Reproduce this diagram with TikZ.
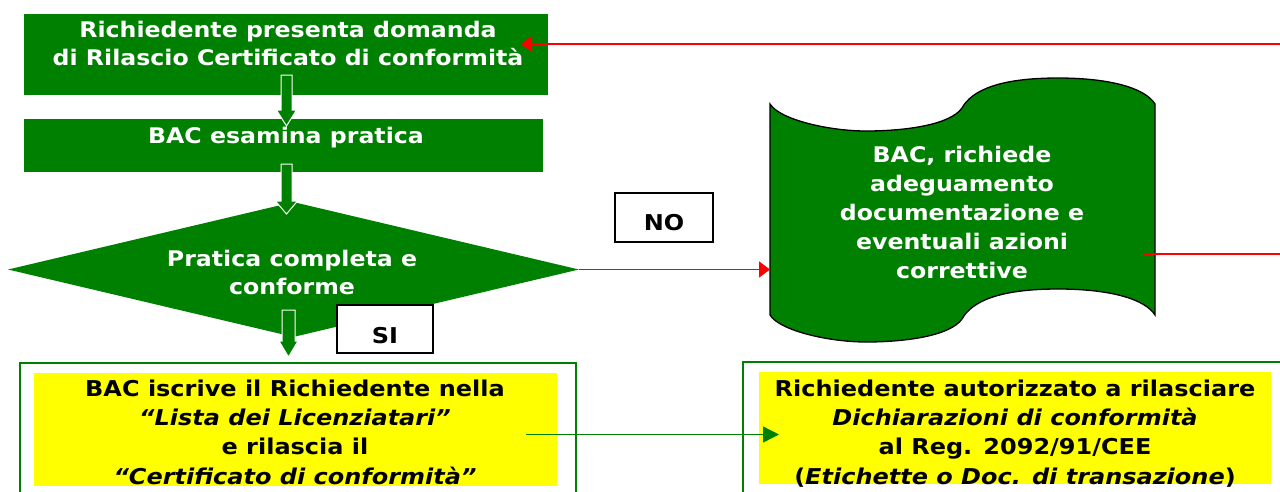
\documentclass[tikz,border=0pt]{standalone}
\usepackage{fontspec}
\setmainfont{DejaVu Sans}[FakeStretch=1.1]
\usetikzlibrary{arrows.meta,shapes.geometric}
\definecolor{bacgreen}{RGB}{0,128,0}
\definecolor{bacyellow}{RGB}{255,255,0}
\definecolor{bacred}{RGB}{255,0,0}
\tikzset{
  greenbox/.style={fill=bacgreen, inner sep=0pt},
  frame/.style={draw=bacgreen, line width=1.5pt, inner sep=0pt},
  yellowbox/.style={fill=bacyellow, inner sep=0pt},
  labelbox/.style={draw=black, fill=white, line width=1.4pt, inner sep=0pt},
  wtext/.style={text=white, font=\fontsize{21.5}{28}\selectfont\bfseries, align=center, inner sep=0pt, anchor=base},
  btext/.style={text=black, font=\fontsize{21.8}{29.3}\selectfont\bfseries, align=center, inner sep=0pt, anchor=base},
  blockarrow/.style={fill=bacgreen, draw=white, line width=1pt},
  redline/.style={draw=bacred, line width=1.8pt, -{Triangle[length=11pt,width=16pt]}},
  greenline/.style={draw=bacgreen, line width=1.3pt, -{Triangle[length=16pt,width=16pt]}},
  docshape/.style={fill=bacgreen, draw=black, line width=1.3pt}
}
\begin{document}
\begin{tikzpicture}[x=1pt,y=-1pt]
\useasboundingbox (0,0) rectangle (1280,491);

% top boxes
\node[greenbox, minimum width=524pt, minimum height=81pt] (box1) at (286,54.5) {};
\node[greenbox, minimum width=519pt, minimum height=53pt] (box2) at (283.5,145.5) {};
\node[diamond, fill=bacgreen, inner sep=0pt, minimum width=571pt, minimum height=135pt] (dia) at (293.5,269.5) {};

% block arrows
\draw[blockarrow] (281,75) -- (292,75) -- (292,110) -- (296.5,110) -- (286.5,126) -- (276.5,110) -- (281,110) -- cycle;
\draw[blockarrow] (281,164) -- (292,164) -- (292,201) -- (297.5,201) -- (286.5,214) -- (275.5,201) -- (281,201) -- cycle;
\draw[blockarrow] (282,310) -- (295,310) -- (295,341) -- (298,341) -- (288.5,357) -- (279,341) -- (282,341) -- cycle;

% texts in green shapes (anchor base = baseline of last line)
\node[wtext] (t1) at (288,65) {Richiedente presenta domanda\\di Rilascio Certificato di conformità};
\node[wtext] (t2) at (286,143) {BAC esamina pratica};
\node[wtext] (td) at (292,294) {Pratica completa e\\conforme};

% document shape
\draw[docshape] (770,104) .. controls (780,120) and (830,131) .. (866,131)
  .. controls (905,131) and (950,125) .. (962,108)
  .. controls (972,90) and (1000,78) .. (1058,78)
  .. controls (1110,78) and (1145,88) .. (1155,104)
  -- (1155,315)
  .. controls (1145,299) and (1110,289) .. (1058,289)
  .. controls (1000,289) and (972,301) .. (962,319)
  .. controls (950,336) and (905,342) .. (866,342)
  .. controls (830,342) and (780,331) .. (770,315) -- cycle;
\node[wtext, font=\fontsize{21.5}{29.2}\selectfont\bfseries] (tdoc) at (962,278.8) {BAC, richiede\\adeguamento\\documentazione e\\eventuali azioni\\correttive};
\coordinate (docL) at (770,269.5);
\coordinate (docR) at (1143,254);

% labels
\node[labelbox, minimum width=98pt, minimum height=49pt] (nobox) at (664,217.5) {};
\node[btext] (not) at (664,230) {NO};
\node[labelbox, minimum width=96pt, minimum height=48pt] (sibox) at (385,329) {};
\node[btext] (sit) at (385,343) {SI};

% red connectors
\draw[redline] (dia.east) -- (docL);
\coordinate (rc1) at (1290,254);
\coordinate (rc2) at (1290,44);
\coordinate (box1tip) at (521,44);
\draw[redline] (docR) -- (rc1) -- (rc2) -- (box1tip);

% bottom boxes
\node[frame, minimum width=556pt, minimum height=137pt] (frameL) at (298,431.5) {};
\node[yellowbox, minimum width=523pt, minimum height=113pt] (yelL) at (295.5,429.5) {};
\node[frame, minimum width=557pt, minimum height=138pt] (frameR) at (1021.5,431) {};
\node[yellowbox, minimum width=512pt, minimum height=112pt] (yelR) at (1015,428) {};

\node[btext] (tl) at (295,484) {BAC iscrive il Richiedente nella\\\textit{“Lista dei Licenziatari”}\\e rilascia il\\\textit{“Certificato di conformità”}};
\node[btext] (tr) at (1015,484) {Richiedente autorizzato a rilasciare\\\textit{Dichiarazioni di conformità}\\al Reg. 2092/91/CEE\\(\textit{Etichette o Doc. di transazione})};

\coordinate (gl1) at (526,434.5);
\coordinate (gl2) at (779,434.5);
\draw[greenline] (gl1) -- (gl2);
\end{tikzpicture}
\end{document}
